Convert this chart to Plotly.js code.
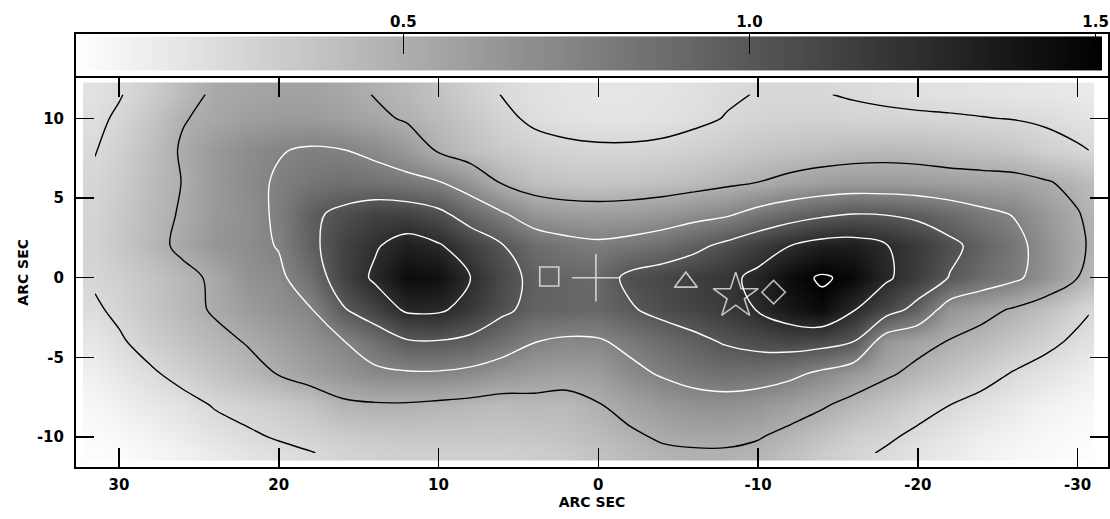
<!DOCTYPE html>
<html>
<head>
<meta charset="utf-8">
<script src="https://cdn.plot.ly/plotly-3.0.1.min.js"></script>
<style>
  html, body { margin: 0; padding: 0; background: #ffffff; }
  #chart { width: 1110px; height: 519px; }
</style>
</head>
<body>
<div id="chart"></div>
<script>
// ---- grid coordinates (arc sec) ----
var xCoords = [31.5, 30, 28, 26, 24, 22, 20, 18, 16, 14, 12, 10, 8, 6, 4, 2, 0,
               -2, -4, -6, -8, -10, -12, -14, -16, -18, -20, -22, -24, -26, -28, -30, -30.7];
var yCoords = [11.5, 10, 8, 6, 4, 2, 0, -2, -4, -6, -8, -10, -11];

// ---- intensity rows (top to bottom) ----
var row_p11_5 = [0.20, 0.24, 0.32, 0.43, 0.53, 0.55, 0.57, 0.57, 0.54, 0.495, 0.44, 0.38, 0.31, 0.245, 0.21, 0.19, 0.18,
                 0.18, 0.19, 0.21, 0.235, 0.255, 0.26, 0.255, 0.24, 0.225, 0.21, 0.20, 0.19, 0.18, 0.17, 0.16, 0.15];
var row_p10 = [0.22, 0.27, 0.36, 0.49, 0.54, 0.59, 0.61, 0.61, 0.58, 0.54, 0.48, 0.42, 0.35, 0.28, 0.225, 0.20, 0.19,
               0.19, 0.20, 0.225, 0.255, 0.28, 0.29, 0.29, 0.28, 0.275, 0.27, 0.265, 0.255, 0.245, 0.23, 0.20, 0.19];
var row_p8 = [0.245, 0.30, 0.40, 0.52, 0.62, 0.69, 0.74, 0.77, 0.755, 0.70, 0.62, 0.48, 0.40, 0.34, 0.30, 0.28, 0.27,
              0.27, 0.28, 0.30, 0.33, 0.36, 0.38, 0.40, 0.42, 0.43, 0.42, 0.40, 0.38, 0.36, 0.30, 0.265, 0.25];
var row_p6 = [0.27, 0.32, 0.42, 0.505, 0.62, 0.70, 0.77, 0.83, 0.86, 0.85, 0.81, 0.76, 0.64, 0.48, 0.40, 0.37, 0.36,
              0.37, 0.39, 0.42, 0.46, 0.50, 0.55, 0.59, 0.61, 0.61, 0.60, 0.58, 0.57, 0.56, 0.515, 0.45, 0.42];
var row_p4 = [0.28, 0.34, 0.43, 0.52, 0.62, 0.68, 0.78, 0.96, 1.05, 1.12, 1.12, 1.05, 0.90, 0.77, 0.64, 0.60, 0.59,
              0.60, 0.63, 0.68, 0.72, 0.82, 0.90, 0.96, 1.00, 0.99, 0.95, 0.88, 0.80, 0.74, 0.62, 0.51, 0.47];
var row_p2 = [0.29, 0.35, 0.44, 0.54, 0.64, 0.69, 0.76, 0.95, 1.12, 1.23, 1.33, 1.27, 1.14, 1.01, 0.88, 0.82, 0.79,
              0.82, 0.87, 0.95, 1.05, 1.15, 1.25, 1.33, 1.34, 1.26, 1.17, 1.05, 0.93, 0.82, 0.66, 0.53, 0.49];
var row_0 = [0.27, 0.31, 0.37, 0.45, 0.53, 0.66, 0.71, 0.87, 1.12, 1.28, 1.44, 1.42, 1.25, 1.08, 0.95, 0.92, 0.90,
             1.05, 1.10, 1.15, 1.20, 1.30, 1.44, 1.52, 1.46, 1.28, 1.15, 0.99, 0.88, 0.79, 0.66, 0.50, 0.45];
var row_m2 = [0.23, 0.28, 0.36, 0.44, 0.52, 0.60, 0.67, 0.74, 0.98, 1.12, 1.28, 1.28, 1.18, 1.04, 0.94, 0.92, 0.91,
              0.98, 1.06, 1.11, 1.17, 1.26, 1.38, 1.45, 1.26, 1.10, 0.93, 0.64, 0.56, 0.48, 0.39, 0.29, 0.26];
var row_m4 = [0.17, 0.23, 0.31, 0.38, 0.45, 0.51, 0.58, 0.66, 0.74, 0.86, 0.98, 0.99, 0.95, 0.86, 0.755, 0.72, 0.73,
              0.80, 0.88, 0.95, 1.02, 1.07, 1.10, 1.08, 1.00, 0.63, 0.56, 0.49, 0.43, 0.36, 0.29, 0.22, 0.20];
var row_m6 = [0.12, 0.17, 0.23, 0.30, 0.37, 0.44, 0.51, 0.58, 0.65, 0.71, 0.73, 0.73, 0.70, 0.64, 0.60, 0.58, 0.60,
              0.70, 0.77, 0.83, 0.86, 0.85, 0.80, 0.71, 0.62, 0.53, 0.45, 0.38, 0.31, 0.24, 0.19, 0.14, 0.12];
var row_m8 = [0.08, 0.11, 0.16, 0.20, 0.26, 0.29, 0.33, 0.38, 0.46, 0.48, 0.48, 0.46, 0.44, 0.42, 0.44, 0.43, 0.49,
              0.56, 0.62, 0.66, 0.67, 0.64, 0.58, 0.52, 0.44, 0.37, 0.30, 0.25, 0.20, 0.15, 0.11, 0.08, 0.07];
var row_m10 = [0.05, 0.07, 0.10, 0.14, 0.19, 0.23, 0.26, 0.29, 0.32, 0.34, 0.35, 0.35, 0.35, 0.35, 0.36, 0.38, 0.42,
               0.47, 0.52, 0.54, 0.54, 0.51, 0.45, 0.38, 0.31, 0.27, 0.22, 0.17, 0.13, 0.10, 0.07, 0.05, 0.05];
var row_m11 = [0.04, 0.05, 0.08, 0.11, 0.15, 0.19, 0.22, 0.245, 0.28, 0.30, 0.31, 0.31, 0.31, 0.31, 0.32, 0.34, 0.38,
               0.43, 0.47, 0.48, 0.48, 0.46, 0.40, 0.33, 0.28, 0.235, 0.19, 0.15, 0.11, 0.08, 0.06, 0.04, 0.04];

var zRows = [row_p11_5, row_p10, row_p8, row_p6, row_p4, row_p2, row_0,
             row_m2, row_m4, row_m6, row_m8, row_m10, row_m11];

// ---- contour levels ----
var blackLevels = {start: 0.25, end: 0.5, size: 0.25};
var whiteLevels = {start: 0.75, end: 1.5, size: 0.25};

// ---- colour scale limits ----
var cMin = 0.03, cMax = 1.51;
var cbarTicks = [0.5, 1.0, 1.5];
var cbarTickText = ['0.5', '1.0', '1.5'];

// ---- marked positions ----
var markX = [3.07, 0.15, -5.48, -8.6, -10.97];
var markY = [0.08, 0.0, -0.28, -1.15, -0.91];
var markSymbol = ['square-open', 'cross-thin-open', 'triangle-up-open', 'star-open', 'diamond-open'];
var markSize = [19, 34, 20, 34, 18];

// ---- axis ticks ----
var xTicks = [30, 20, 10, 0, -10, -20, -30];
var yTicks = [10, 5, 0, -5, -10];

// colour-bar ramp (legend strip spanning the colour scale)
var rampN = 200;
var rampEdges = [], rampZ = [];
var rampX0 = 0.027, rampX1 = 1.509;
for (var i = 0; i <= rampN; i++) rampEdges.push(rampX0 + (rampX1 - rampX0) * i / rampN);
for (var j = 0; j < rampN; j++) rampZ.push(cMin + (cMax - cMin) * (j + 0.5) / rampN);

var grey = [[0, '#ffffff'], [1, '#000000']];
var FONT = 'DejaVu Sans, Verdana, sans-serif';
var tickFont = {family: FONT, size: 15, color: '#000000', weight: 'bold'};
var titleFont = {family: FONT, size: 14, color: '#000000', weight: 'bold'};

var traces = [
  {
    type: 'heatmap', x: xCoords, y: yCoords, z: zRows,
    zsmooth: 'best', colorscale: grey, zmin: cMin, zmax: cMax,
    showscale: false, hoverinfo: 'skip'
  },
  {
    type: 'contour', x: xCoords, y: yCoords, z: zRows,
    autocontour: false, contours: Object.assign({coloring: 'none'}, blackLevels),
    line: {color: '#000000', width: 1.4, smoothing: 1},
    showscale: false, hoverinfo: 'skip'
  },
  {
    type: 'contour', x: xCoords, y: yCoords, z: zRows,
    autocontour: false, contours: Object.assign({coloring: 'none'}, whiteLevels),
    line: {color: '#ffffff', width: 1.4, smoothing: 1},
    showscale: false, hoverinfo: 'skip'
  },
  {
    type: 'scatter', mode: 'markers', x: markX, y: markY,
    marker: {symbol: markSymbol, size: markSize, color: '#ffffff',
             line: {color: '#ffffff', width: 1.6}},
    hoverinfo: 'skip', showlegend: false
  },
  {
    type: 'heatmap', x: rampEdges, y: [0.144, 0.942], z: [rampZ],
    colorscale: grey, zmin: cMin, zmax: cMax, showscale: false,
    xaxis: 'x2', yaxis: 'y2', hoverinfo: 'skip'
  }
];

var layout = {
  width: 1110, height: 519,
  margin: {l: 76, r: 2, t: 34, b: 52},
  paper_bgcolor: '#ffffff', plot_bgcolor: '#ffffff',
  showlegend: false,
  font: {family: FONT, color: '#000000'},
  xaxis: {
    domain: [0, 1], range: [32.69, -31.9], anchor: 'y',
    tickmode: 'array', tickvals: xTicks, ticktext: xTicks.map(String),
    ticks: 'inside', ticklen: 19, tickwidth: 1.5, tickcolor: '#000000',
    showline: true, linecolor: '#000000', linewidth: 2, mirror: 'ticks',
    showgrid: false, zeroline: false, tickfont: tickFont,
    ticklabelstandoff: 3,
    title: {text: 'ARC SEC', font: titleFont, standoff: 1}
  },
  yaxis: {
    domain: [0, 0.899], range: [-11.88, 12.55], anchor: 'x',
    tickmode: 'array', tickvals: yTicks, ticktext: yTicks.map(String),
    ticks: 'inside', ticklen: 18, tickwidth: 1.5, tickcolor: '#000000',
    showline: true, linecolor: '#000000', linewidth: 2, mirror: 'ticks',
    showgrid: false, zeroline: false, tickfont: tickFont,
    ticklabelstandoff: 7,
    title: {text: 'ARC SEC', font: titleFont, standoff: 5}
  },
  xaxis2: {
    domain: [0, 1], range: [0.027, 1.518], anchor: 'y2', side: 'top',
    tickmode: 'array', tickvals: cbarTicks, ticktext: cbarTickText,
    ticks: 'inside', ticklen: 20, tickwidth: 1.5, tickcolor: '#000000',
    showline: true, linecolor: '#000000', linewidth: 2, mirror: true,
    showgrid: false, zeroline: false, tickfont: tickFont,
    ticklabelstandoff: -1
  },
  yaxis2: {
    domain: [0.903, 1], range: [0, 1], anchor: 'x2',
    showticklabels: false, ticks: '',
    showline: true, linecolor: '#000000', linewidth: 2, mirror: true,
    showgrid: false, zeroline: false
  }
};

Plotly.newPlot('chart', traces, layout, {displayModeBar: false, staticPlot: true});
</script>
</body>
</html>
